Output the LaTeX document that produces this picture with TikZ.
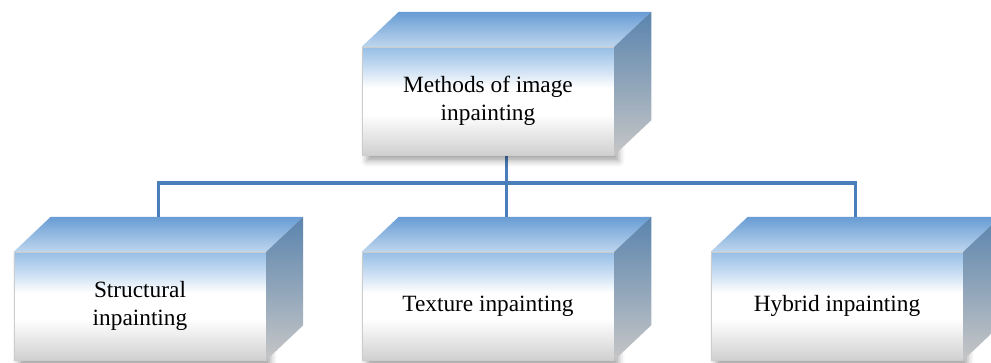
\documentclass[tikz,border=0pt]{standalone}
\usepackage{fontspec}
\setmainfont{Liberation Serif}
\definecolor{LineBlue} {RGB}{74,126,187}
\definecolor{TopDark}  {RGB}{104,156,212}
\definecolor{TopLight} {RGB}{190,214,238}
\definecolor{FaceBlue} {RGB}{150,190,230}
\definecolor{FaceGrey} {RGB}{208,208,208}
\definecolor{SideDark} {RGB}{90,132,174}
\definecolor{SideGrey} {RGB}{198,198,198}
\usetikzlibrary{calc,backgrounds,shadows.blur}

% front face: blue on top, white in the middle, grey below
\pgfdeclareverticalshading{frontshade}{100bp}{color(0bp)=(FaceGrey);
  color(25bp)=(FaceGrey); color(44bp)=(white); color(56bp)=(white);
  color(66bp)=(FaceBlue!55!white); color(75bp)=(FaceBlue);
  color(100bp)=(FaceBlue)}

% top and right faces of a box
\newcommand{\cubefaces}[1]{%
  \shade[top color=TopDark,bottom color=TopLight]
    (#1.north west) -- ++(37,35) -- ($(#1.north east)+(37,35)$)
    -- (#1.north east) -- cycle;
  \shade[top color=SideDark,bottom color=SideGrey]
    (#1.north east) -- ++(37,35) -- ($(#1.south east)+(37,35)$)
    -- (#1.south east) -- cycle;
  \coordinate (#1c) at ($(#1.center)+(18.5,17.5)$);
}

\begin{document}
\begin{tikzpicture}[x=0.03cm,y=0.03cm,
  frontbox/.style={rectangle,minimum width=7.56cm,minimum height=3.24cm,
    inner sep=0pt,align=center,draw=gray!40,line width=0.4pt,
    shading=frontshade,
    font=\fontsize{19.9}{24}\selectfont,
    blur shadow={shadow xshift=4pt,shadow yshift=-5pt,
      shadow opacity=35,shadow blur radius=5pt}},
  link/.style={LineBlue,line width=2.6pt}]
  \useasboundingbox (0,0) rectangle (991,362);
  % boxes
  \node[frontbox] (top) at (488,261) {Methods of image\\inpainting};
  \cubefaces{top}
  \node[frontbox] (struct) at (140,56) {Structural\\inpainting};
  \cubefaces{struct}
  \node[frontbox] (text) at (488,56) {Texture inpainting};
  \cubefaces{text}
  \node[frontbox] (hyb) at (837,56) {Hybrid inpainting};
  \cubefaces{hyb}
  % connectors behind the boxes
  \coordinate (bus) at (0,179);
  \begin{scope}[on background layer]
    \draw[link] (topc) -- (topc |- bus);
    \draw[link] (structc) |- (hybc |- bus) -- (hybc);
    \draw[link] (textc) -- (textc |- bus);
  \end{scope}
\end{tikzpicture}
\end{document}
